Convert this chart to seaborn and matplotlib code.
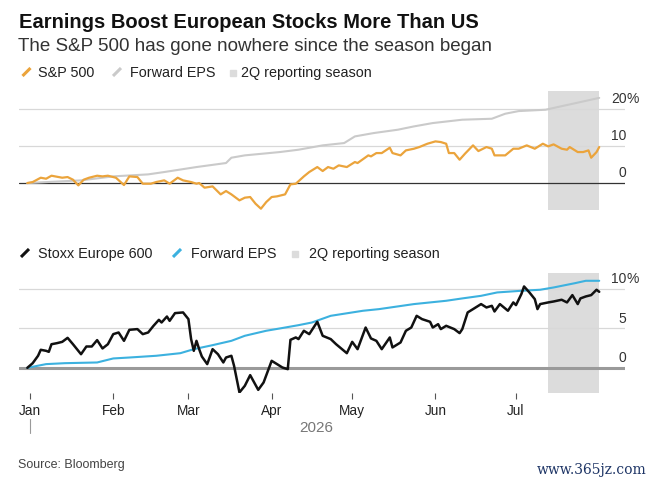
import matplotlib
matplotlib.use("Agg")
import matplotlib.pyplot as plt
from matplotlib.lines import Line2D
from matplotlib.patches import Rectangle
import pandas as pd
import seaborn as sns

# ---- values (% change since start of year) ----
spx_dates = ["2025-12-31", "2026-01-02", "2026-01-05", "2026-01-07", "2026-01-09", "2026-01-13", "2026-01-15",
             "2026-01-17", "2026-01-19", "2026-01-21", "2026-01-23", "2026-01-26", "2026-01-28", "2026-01-30",
             "2026-02-02", "2026-02-05", "2026-02-07", "2026-02-10", "2026-02-12", "2026-02-15", "2026-02-17",
             "2026-02-20", "2026-02-22", "2026-02-25", "2026-02-27", "2026-03-02", "2026-03-04", "2026-03-05",
             "2026-03-07", "2026-03-10", "2026-03-13", "2026-03-15", "2026-03-17", "2026-03-20", "2026-03-22",
             "2026-03-24", "2026-03-26", "2026-03-28", "2026-03-30", "2026-04-01", "2026-04-03", "2026-04-06",
             "2026-04-08", "2026-04-10", "2026-04-13", "2026-04-15", "2026-04-18", "2026-04-20", "2026-04-22",
             "2026-04-24", "2026-04-26", "2026-04-29", "2026-05-02", "2026-05-03", "2026-05-07", "2026-05-08",
             "2026-05-10", "2026-05-12", "2026-05-15", "2026-05-16", "2026-05-19", "2026-05-21", "2026-05-24",
             "2026-05-26", "2026-05-29", "2026-06-01", "2026-06-03", "2026-06-05", "2026-06-06", "2026-06-08",
             "2026-06-10", "2026-06-12", "2026-06-15", "2026-06-17", "2026-06-20", "2026-06-22", "2026-06-23",
             "2026-06-27", "2026-06-30", "2026-07-02", "2026-07-05", "2026-07-08", "2026-07-11", "2026-07-13",
             "2026-07-15", "2026-07-18", "2026-07-20", "2026-07-21", "2026-07-24", "2026-07-26", "2026-07-28",
             "2026-07-29", "2026-07-31", "2026-08-01"]
spx_vals = [0, 0.27, 1.43, 1.16, 1.97, 1.43, 1.61, 0.9, -0.63, 0.9,
            1.43, 1.97, 1.79, 1.97, 1.43, -0.54, 1.79, 1.61, -0.18, -0.18,
            0.27, 0.72, -0.18, 1.43, 0.72, 0.27, -0.18, 0, -1.25, -0.9,
            -3.05, -2.15, -3.05, -4.66, -3.94, -3.76, -5.56, -6.9, -5.1, -3.76,
            -3.58, -3.05, -0.36, -0.18, 1.79, 2.96, 4.3, 3.23, 4.3, 3.85,
            4.75, 4.3, 5.65, 5.38, 7.44, 7.17, 8.06, 8.06, 9.5, 8.06,
            7.44, 8.78, 9.23, 9.68, 10.57, 11.2, 11.02, 10.57, 8.06, 8.06,
            6.27, 7.89, 10.13, 8.6, 9.68, 9.23, 7.44, 7.44, 9.23, 9.23,
            10.13, 9.23, 10.57, 9.86, 10.4, 9.23, 8.96, 9.68, 8.33, 8.33,
            8.78, 6.81, 8.33, 9.68]

spx_eps_dates = ["2025-12-31", "2026-01-20", "2026-02-01", "2026-02-14", "2026-02-20", "2026-03-04", "2026-03-15",
                 "2026-03-17", "2026-03-22", "2026-04-04", "2026-04-11", "2026-04-20", "2026-04-28", "2026-05-02",
                 "2026-05-09", "2026-05-18", "2026-05-24", "2026-05-31", "2026-06-11", "2026-06-22", "2026-06-27",
                 "2026-07-02", "2026-07-12", "2026-07-22", "2026-08-01"]
spx_eps_vals = [0, 0.72, 1.79, 2.33, 2.96, 4.3, 5.38, 6.81, 7.44, 8.33, 8.96, 10.13, 10.75, 12.54,
                13.44, 14.34, 15.23, 16.13, 17.03, 17.29, 18.64, 19.35, 19.71, 21.3, 22.9]

stoxx_dates = ["2025-12-31", "2026-01-02", "2026-01-04", "2026-01-05", "2026-01-07", "2026-01-08", "2026-01-09",
               "2026-01-11", "2026-01-13", "2026-01-15", "2026-01-17", "2026-01-20", "2026-01-22", "2026-01-24",
               "2026-01-26", "2026-01-28", "2026-01-30", "2026-02-01", "2026-02-03", "2026-02-05", "2026-02-07",
               "2026-02-10", "2026-02-12", "2026-02-14", "2026-02-16", "2026-02-18", "2026-02-19", "2026-02-21",
               "2026-02-22", "2026-02-24", "2026-02-27", "2026-03-01", "2026-03-02", "2026-03-03", "2026-03-04",
               "2026-03-05", "2026-03-06", "2026-03-08", "2026-03-10", "2026-03-12", "2026-03-14", "2026-03-15",
               "2026-03-17", "2026-03-18", "2026-03-20", "2026-03-22", "2026-03-24", "2026-03-27", "2026-03-29",
               "2026-04-01", "2026-04-03", "2026-04-05", "2026-04-07", "2026-04-08", "2026-04-10", "2026-04-11",
               "2026-04-13", "2026-04-15", "2026-04-18", "2026-04-20", "2026-04-23", "2026-04-25", "2026-04-29",
               "2026-05-01", "2026-05-03", "2026-05-06", "2026-05-08", "2026-05-10", "2026-05-12", "2026-05-15",
               "2026-05-16", "2026-05-19", "2026-05-21", "2026-05-23", "2026-05-25", "2026-05-27", "2026-05-30",
               "2026-05-31", "2026-06-02", "2026-06-03", "2026-06-05", "2026-06-08", "2026-06-10", "2026-06-11",
               "2026-06-13", "2026-06-15", "2026-06-18", "2026-06-20", "2026-06-22", "2026-06-23", "2026-06-25",
               "2026-06-28", "2026-06-30", "2026-07-01", "2026-07-03", "2026-07-04", "2026-07-06", "2026-07-08",
               "2026-07-09", "2026-07-10", "2026-07-13", "2026-07-15", "2026-07-18", "2026-07-20", "2026-07-22",
               "2026-07-24", "2026-07-25", "2026-07-27", "2026-07-29", "2026-07-31", "2026-08-01"]
stoxx_vals = [0, 0.59, 1.53, 2.29, 2.16, 2.03, 3.0, 3.13, 3.3, 3.81,
              3.0, 1.73, 2.71, 2.71, 3.52, 2.46, 3.0, 4.28, 4.49, 3.43,
              4.83, 4.92, 4.28, 4.49, 5.34, 6.1, 5.76, 6.52, 5.97, 6.95,
              7.04, 6.19, 3.65, 2.16, 3.43, 2.37, 1.44, 0.47, 2.37, 1.73,
              0.68, 1.31, 1.53, 0.25, -3.13, -2.29, -0.93, -2.8, -1.86, 0.89,
              0.47, 0.04, -0.17, 3.56, 3.86, 3.65, 4.71, 4.28, 5.85, 4.07,
              3.65, 3.0, 1.86, 3.3, 2.37, 5.12, 3.73, 3.43, 2.37, 3.86,
              2.59, 3.22, 4.71, 5.12, 6.61, 6.19, 5.85, 5.12, 5.55, 4.92,
              5.34, 4.92, 4.41, 4.92, 7.04, 7.46, 8.1, 7.67, 7.88, 7.16,
              8.1, 7.25, 8.31, 7.97, 9.37, 10.34, 9.58, 8.73, 7.46, 8.1,
              8.31, 8.43, 8.65, 8.31, 9.24, 8.1, 8.82, 9.07, 9.24, 9.92,
              9.66]

stoxx_eps_dates = ["2025-12-31", "2026-01-07", "2026-01-14", "2026-01-26", "2026-02-01", "2026-02-07", "2026-02-17",
                   "2026-02-26", "2026-03-03", "2026-03-10", "2026-03-17", "2026-03-22", "2026-03-30", "2026-04-04",
                   "2026-04-11", "2026-04-16", "2026-04-23", "2026-05-05", "2026-05-11", "2026-05-24", "2026-06-05",
                   "2026-06-11", "2026-06-18", "2026-06-24", "2026-07-03", "2026-07-10", "2026-07-15", "2026-07-23",
                   "2026-07-27", "2026-08-01"]
stoxx_eps_vals = [0, 0.47, 0.59, 0.68, 1.19, 1.31, 1.53, 1.86, 2.37, 2.88,
                  3.43, 4.07, 4.71, 5.0, 5.42, 5.76, 6.61, 7.25, 7.46, 8.1,
                  8.52, 8.82, 9.15, 9.58, 9.79, 9.92, 10.21, 10.76, 11.06, 11.06]

season_start = "2026-07-13"
season_end = "2026-08-01"
top_ticks = [0, 10, 20]
bottom_ticks = [0, 5, 10]
month_ticks = ["2026-01-01", "2026-02-01", "2026-03-01", "2026-04-01", "2026-05-01", "2026-06-01", "2026-07-01"]
month_labels = ["Jan", "Feb", "Mar", "Apr", "May", "Jun", "Jul"]

ORANGE = "#eba43c"
LIGHT = "#cacaca"
BLACK = "#111111"
BLUE = "#3cb1df"
SHADE = "#dcdcdc"
GRID = "#d8d8d8"

sns.set_style("white")
plt.rcParams["font.family"] = ["Liberation Sans", "DejaVu Sans"]

W, H = 660, 485
fig = plt.figure(figsize=(W / 100, H / 100), dpi=100)


def fx(x):
    return x / W


def fy(y):
    return 1 - y / H


ax1 = fig.add_axes([fx(19), fy(211), 606 / W, 119 / H])
ax2 = fig.add_axes([fx(19), fy(394), 606 / W, 120 / H])

jan1 = pd.Timestamp("2026-01-01")
xlim = (jan1 - pd.Timedelta(days=4.1), jan1 + pd.Timedelta(days=221.6))


def draw_panel(ax, eps_d, eps_v, px_d, px_v, eps_color, px_color, px_lw, ticks, ylim, zero_color, zero_lw):
    ax.axvspan(pd.Timestamp(season_start), pd.Timestamp(season_end), color=SHADE, lw=0, zorder=0)
    for t in ticks[1:]:
        ax.axhline(t, color=GRID, lw=0.9, zorder=1)
    ax.axhline(0, color=zero_color, lw=zero_lw, zorder=1)
    sns.lineplot(x=pd.to_datetime(eps_d), y=eps_v, ax=ax, color=eps_color, lw=1.5, zorder=2)
    sns.lineplot(x=pd.to_datetime(px_d), y=px_v, ax=ax, color=px_color, lw=px_lw, zorder=3)
    ax.set_xlim(xlim)
    ax.set_ylim(ylim)
    ax.set_yticks([])
    ax.set_xlabel("")
    ax.set_ylabel("")
    for s in ax.spines.values():
        s.set_visible(False)
    for t in ticks:
        ax.annotate(str(t), xy=(1.0, t), xycoords=("axes fraction", "data"), xytext=(1, 5),
                    textcoords="offset points", ha="right", va="baseline", fontsize=10, color="#333333")
    ax.annotate("%", xy=(1.0, ticks[-1]), xycoords=("axes fraction", "data"), xytext=(1, 5),
                textcoords="offset points", ha="left", va="baseline", fontsize=10, color="#333333")


draw_panel(ax1, spx_eps_dates, spx_eps_vals, spx_dates, spx_vals, LIGHT, ORANGE, 1.6,
           top_ticks, (-7.25, 24.75), "#333333", 0.9)
ax1.set_xticks([])

draw_panel(ax2, stoxx_eps_dates, stoxx_eps_vals, stoxx_dates, stoxx_vals, BLUE, BLACK, 1.8,
           bottom_ticks, (-3.2, 12.05), "#9a9a9a", 2.2)
ax2.set_xticks(pd.to_datetime(month_ticks))
ax2.set_xticklabels(month_labels)
ax2.tick_params(axis="x", bottom=True, length=4, width=0.8, color="#555555", pad=3,
                labelsize=9.8, labelcolor="#222222")

# year marker under Jan
ax2.plot([jan1, jan1], [-0.22, -0.33], transform=ax2.get_xaxis_transform(),
         color="#9a9a9a", lw=0.8, clip_on=False)
ax2.text(0.49, -0.315, "2026", transform=ax2.transAxes, ha="center", va="baseline",
         fontsize=11, color="#777777")


def legend_item(x_mark, x_text, y_base, color, label, kind):
    if kind == "line":
        fig.add_artist(Line2D([fx(x_mark), fx(x_mark + 8)], [fy(y_base), fy(y_base - 8)],
                              color=color, lw=2.2, solid_capstyle="butt"))
    else:
        fig.add_artist(Rectangle((fx(x_mark), fy(y_base)), 6 / W, 6 / H, color=color,
                                 transform=fig.transFigure))
    fig.text(fx(x_text), fy(y_base), label, ha="left", va="baseline", fontsize=10.4, color="#222222")


legend_item(22.5, 38, 77, ORANGE, "S&P 500", "line")
legend_item(113, 130, 77, LIGHT, "Forward EPS", "line")
legend_item(230, 241, 77, SHADE, "2Q reporting season", "box")

legend_item(21, 38, 258, BLACK, "Stoxx Europe 600", "line")
legend_item(173, 191, 258, BLUE, "Forward EPS", "line")
legend_item(292, 309, 258, SHADE, "2Q reporting season", "box")

fig.text(fx(19), fy(27.7), "Earnings Boost European Stocks More Than US", ha="left", va="baseline",
         fontsize=14.5, fontweight="bold", color="#111111")
fig.text(fx(18), fy(51), "The S&P 500 has gone nowhere since the season began", ha="left", va="baseline",
         fontsize=13.5, color="#333333")
fig.text(fx(18), fy(468), "Source: Bloomberg", ha="left", va="baseline", fontsize=9, color="#444444")
fig.text(fx(537), fy(474), "www.365jz.com", ha="left", va="baseline", fontsize=10,
         family="DejaVu Serif", color="#1e3566")

fig.savefig("out.png", dpi=100, facecolor="white")
